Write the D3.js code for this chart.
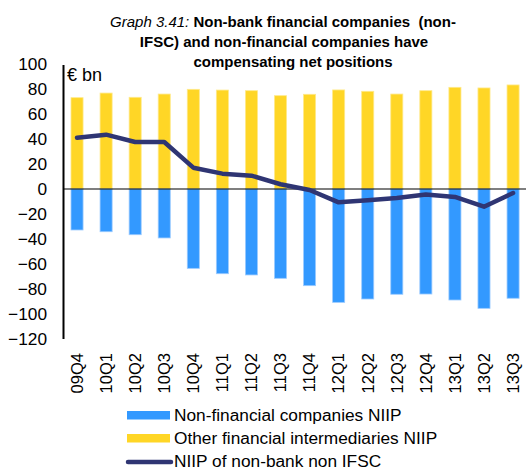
<!DOCTYPE html>
<html>
<head>
<meta charset="utf-8">
<script src="https://cdn.jsdelivr.net/npm/d3@7"></script>
<style>
  html, body { margin: 0; padding: 0; background: #fff; }
  svg { display: block; font-family: "Liberation Sans", Arial, Helvetica, sans-serif; }
  .keep-space { white-space: pre; }
</style>
</head>
<body>
<svg id="chart" width="526" height="469"></svg>
<script>
// Quarterly net international investment positions, € bn
const quarters = ["09Q4","10Q1","10Q2","10Q3","10Q4","11Q1","11Q2","11Q3","11Q4","12Q1","12Q2","12Q3","12Q4","13Q1","13Q2","13Q3"];
const nonFinancialNIIP = [-32.9, -34.3, -36.7, -39.3, -63.7, -68.0, -69.0, -71.7, -77.6, -91.0, -88.3, -84.5, -84.3, -89.1, -95.8, -87.7];
const otherFinancialNIIP = [73.3, 77.0, 73.6, 76.2, 80.0, 79.4, 78.9, 74.9, 76.0, 79.5, 78.4, 76.2, 78.9, 81.6, 81.1, 83.5];
const nonBankNIIP = [41.2, 43.6, 37.7, 37.7, 17.1, 12.3, 10.7, 3.8, -0.8, -10.7, -9.1, -7.2, -4.5, -6.4, -14.2, -3.2];
const yTicks = [100, 80, 60, 40, 20, 0, -20, -40, -60, -80, -100, -120];
const seriesNames = ["Non-financial companies NIIP", "Other financial intermediaries NIIP", "NIIP of non-bank non IFSC"];

const colors = {
  blue: "#3399FF", blueEdge: "#9CCBFF",
  yellow: "#FFD626", yellowEdge: "#FFE98A",
  line: "#2F3573"
};
const fs = 17.3;

const svg = d3.select("#chart");

// Title: italic label followed by bold heading, three centred lines
const title = svg.append("g").attr("font-size", 15).attr("fill", "#000").attr("text-anchor", "middle");
const l1 = title.append("text").attr("class", "keep-space").attr("x", 283).attr("y", 27);
l1.append("tspan").attr("font-style", "italic").text("Graph 3.41: ");
l1.append("tspan").attr("font-weight", "bold").text("Non-bank financial companies  (non-");
title.append("text").attr("x", 284).attr("y", 47).attr("font-weight", "bold")
  .text("IFSC) and non-financial companies have");
title.append("text").attr("x", 293).attr("y", 67).attr("font-weight", "bold")
  .text("compensating net positions");

const x = d3.scaleBand()
  .domain(quarters)
  .range([62.5, 527.6])
  .paddingInner(0.585)
  .paddingOuter(0.2925);

const y = d3.scaleLinear().domain([-120, 100]).range([338.5, 64.4]);

// Bars: positive OFI above zero, negative NFC below
const bars = svg.append("g");
bars.selectAll("rect.ofi")
  .data(quarters.map((q, i) => ({ q, v: otherFinancialNIIP[i] })))
  .join("rect")
  .attr("class", "ofi")
  .attr("x", d => x(d.q))
  .attr("width", x.bandwidth())
  .attr("y", d => y(d.v))
  .attr("height", d => y(0) - y(d.v))
  .attr("fill", colors.yellow)
  .attr("stroke", colors.yellowEdge)
  .attr("stroke-width", 0.8);

bars.selectAll("rect.nfc")
  .data(quarters.map((q, i) => ({ q, v: nonFinancialNIIP[i] })))
  .join("rect")
  .attr("class", "nfc")
  .attr("x", d => x(d.q))
  .attr("width", x.bandwidth())
  .attr("y", y(0))
  .attr("height", d => y(d.v) - y(0))
  .attr("fill", colors.blue)
  .attr("stroke", colors.blueEdge)
  .attr("stroke-width", 0.8);

// Zero line
svg.append("line")
  .attr("x1", 63).attr("x2", 526)
  .attr("y1", y(0)).attr("y2", y(0))
  .attr("stroke", "#000").attr("stroke-width", 1.2);

// Net position line
const line = d3.line()
  .x((d, i) => x(quarters[i]) + x.bandwidth() / 2)
  .y(d => y(d));
svg.append("path")
  .datum(nonBankNIIP)
  .attr("d", line)
  .attr("fill", "none")
  .attr("stroke", colors.line)
  .attr("stroke-width", 4.5)
  .attr("stroke-linejoin", "round")
  .attr("stroke-linecap", "round");

// Y axis
const yAxis = svg.append("g")
  .attr("transform", "translate(63,0)")
  .call(d3.axisLeft(y).tickValues(yTicks).tickSize(0).tickPadding(16).tickFormat(d3.format("d")));
yAxis.select(".domain").attr("stroke", "#000").attr("stroke-width", 2);
yAxis.selectAll("text")
  .attr("font-size", fs)
  .attr("font-family", "Liberation Sans, Arial, sans-serif")
  .attr("fill", "#000");

svg.append("text")
  .attr("x", 67).attr("y", 81)
  .attr("font-size", 18).attr("fill", "#000")
  .text("€ bn");

// X category labels, rotated
svg.append("g").selectAll("text")
  .data(quarters)
  .join("text")
  .attr("transform", d => `translate(${x(d) + x.bandwidth() / 2},353) rotate(-90)`)
  .attr("text-anchor", "end")
  .attr("dy", "0.35em")
  .attr("font-size", 16.5)
  .attr("fill", "#000")
  .text(d => d);

// Legend
const legend = svg.append("g");
const rowY = [415, 438, 461];
legend.append("rect").attr("x", 127).attr("y", rowY[0] - 4).attr("width", 43).attr("height", 8.5).attr("fill", colors.blue);
legend.append("rect").attr("x", 127).attr("y", rowY[1] - 4).attr("width", 43).attr("height", 8.5).attr("fill", colors.yellow);
legend.append("line").attr("x1", 128).attr("x2", 171).attr("y1", rowY[2] + 1).attr("y2", rowY[2] + 1)
  .attr("stroke", colors.line).attr("stroke-width", 4.5).attr("stroke-linecap", "round");
legend.selectAll("text.lg")
  .data(seriesNames)
  .join("text")
  .attr("class", "lg")
  .attr("x", 174)
  .attr("y", (d, i) => rowY[i])
  .attr("dy", "0.35em")
  .attr("font-size", fs)
  .attr("fill", "#000")
  .text(d => d);
</script>
</body>
</html>
